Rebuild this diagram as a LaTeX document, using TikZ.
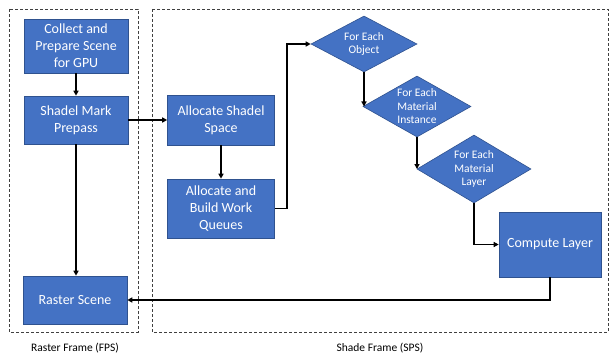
\documentclass[tikz,border=0pt]{standalone}
\usepackage{fontspec}
\setmainfont{Carlito}
\usetikzlibrary{shapes.geometric,arrows.meta}
\definecolor{boxblue}{HTML}{4472C4}
\definecolor{boxedge}{HTML}{2F528F}
\tikzset{
  procbox/.style={rectangle,fill=boxblue,draw=boxedge,line width=0.6pt,text=white,align=center,font=\fontsize{14}{17}\selectfont,inner sep=0pt},
  loopdia/.style={diamond,aspect=2,fill=boxblue,draw=boxedge,line width=0.6pt,text=white,align=center,font=\fontsize{11.5}{13.5}\selectfont,inner sep=-6pt},
  frame/.style={draw=black!75,dashed,line width=0.6pt,dash pattern=on 3pt off 2pt},
  flow/.style={line width=1.6pt,-{Triangle[length=5pt,width=5pt]}},
  caption/.style={font=\fontsize{11.5}{13.5}\selectfont,text=black}
}
\begin{document}
\begin{tikzpicture}[x=1pt,y=-1pt]
\useasboundingbox[fill=white] (0,0) rectangle (609,358);
\draw[frame] (9,9) rectangle (138,332);
\draw[frame] (152,9) rectangle (608,332);
\node[caption] (lblL) at (75,348) {Raster Frame (FPS)};
\node[caption] (lblR) at (380,348) {Shade Frame (SPS)};

\node[procbox,minimum width=104pt,minimum height=54pt] (collect) at (76,46) {Collect and\\Prepare Scene\\for GPU};
\node[procbox,minimum width=104pt,minimum height=48pt] (mark) at (76,120) {Shadel Mark\\Prepass};
\node[procbox,minimum width=104pt,minimum height=48pt] (raster) at (75,300) {Raster Scene};
\node[procbox,minimum width=107pt,minimum height=50pt] (space) at (221,120) {Allocate Shadel\\Space};
\node[procbox,minimum width=107pt,minimum height=59pt] (queues) at (221,208.5) {Allocate and\\Build Work\\Queues};
\node[loopdia,minimum width=106pt,minimum height=56pt] (obj) at (364,44) {For Each\\Object};
\node[loopdia,minimum width=108pt,minimum height=61pt] (inst) at (417,106.5) {For Each\\Material\\Instance};
\node[loopdia,minimum width=114pt,minimum height=68pt] (layer) at (474,169) {For Each\\Material\\Layer};
\node[procbox,minimum width=102pt,minimum height=65pt] (compute) at (550,244.5) {Compute Layer};

\draw[flow] (collect.south) -- (mark.north);
\draw[flow] (mark.south) -- (mark.south |- raster.north);
\draw[flow] (mark.east) -- (space.west);
\draw[flow] (space.south) -- (space.south |- queues.north);
\draw[flow] (queues.east) -- ++(12,0) |- (obj.west);
\draw[flow] (obj.south) -- (obj.south |- inst.west);
\draw[flow] (inst.south) -- (inst.south |- layer.west);
\draw[flow] (layer.south) |- (compute.west);
\draw[flow] (compute.south) |- (raster.east);
\end{tikzpicture}
\end{document}
